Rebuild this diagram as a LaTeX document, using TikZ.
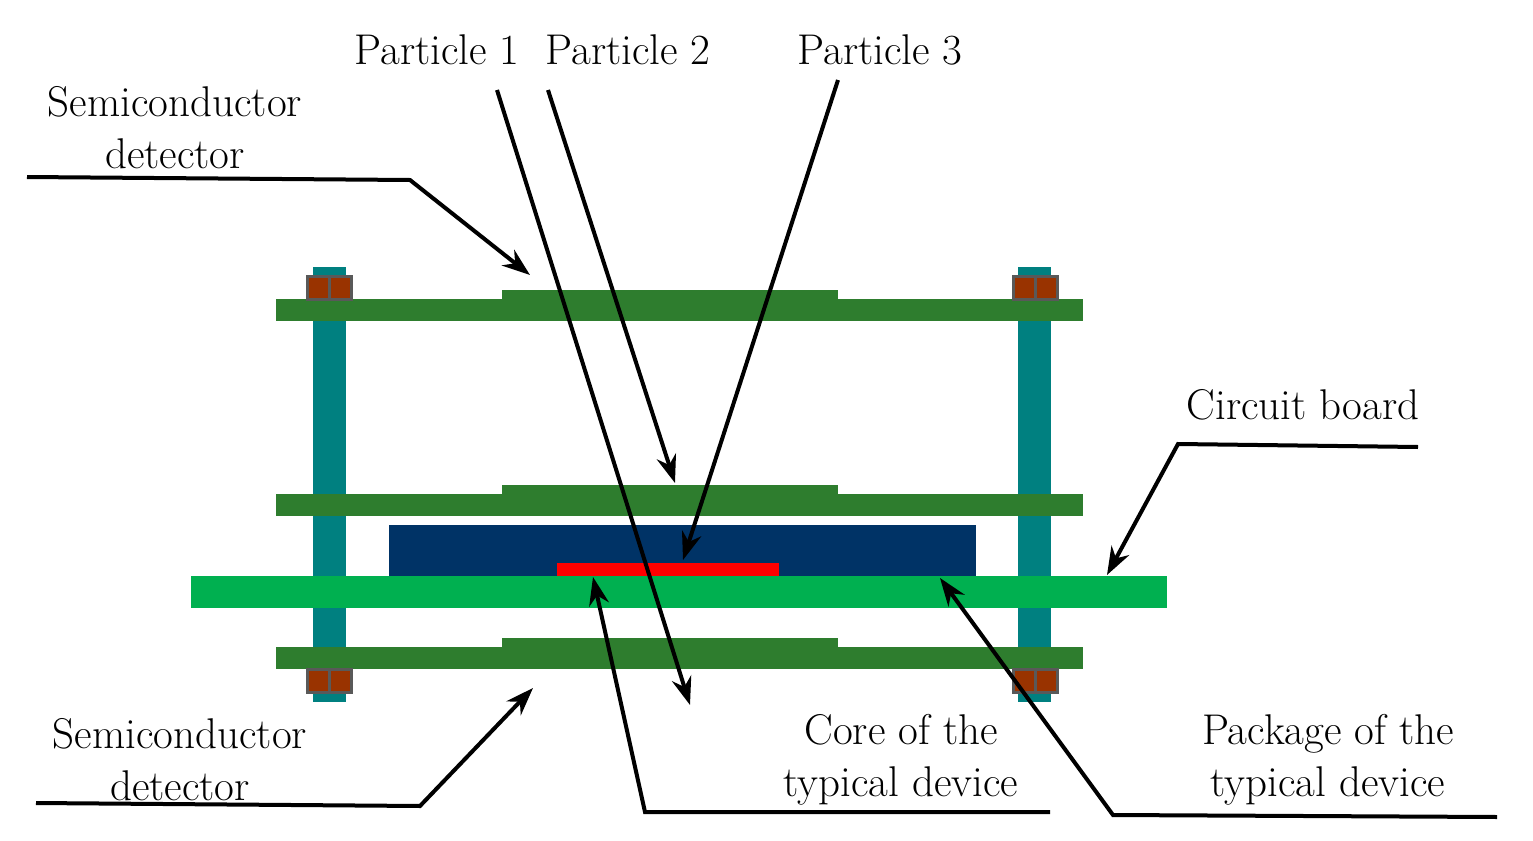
\documentclass[tikz,border=0pt]{standalone}
\usetikzlibrary{arrows.meta}
\begin{document}
\begin{tikzpicture}[x=0.5pt,y=-0.5pt,
  dg/.style={fill={rgb,255:red,46;green,125;blue,46}},
  post/.style={fill={rgb,255:red,0;green,128;blue,128}},
  bolt/.style={fill={rgb,255:red,153;green,51;blue,0},draw={rgb,255:red,89;green,89;blue,89},line width=1.5pt},
  arr/.style={line width=2pt,-{Stealth[length=14pt,width=10pt]}},
  lbl/.style={font=\fontsize{21.5}{26}\selectfont,align=center,inner sep=0pt}]
\useasboundingbox (0,0) rectangle (1533,841);
% posts
\path[post] (313,267) rectangle (346,702);
\path[post] (1018,267) rectangle (1051,702);
% detector boards
\foreach \y in {299,494,647}{
  \path[dg] (276,\y) rectangle (1083,\y+22);
  \path[dg] (502,\y-9) rectangle (838,\y+22);
}
% bolts
\foreach \x in {307,1013}{
  \foreach \y in {276,669}{
    \draw[bolt] (\x,\y) rectangle (\x+22,\y+23);
    \draw[bolt] (\x+22,\y) rectangle (\x+44,\y+23);
  }
}
% circuit board, package, core
\path[fill={rgb,255:red,0;green,176;blue,80}] (191,576) rectangle (1167,608);
\node[coordinate] (cb) at (1107,575) {};
\path[fill={rgb,255:red,0;green,51;blue,102}] (389,525) rectangle (976,576);
\path[fill=red] (557,563) rectangle (779,576);
% labels
\node[lbl] (p1) at (437,50) {Particle 1};
\node[lbl] (p2) at (628,50) {Particle 2};
\node[lbl] (p3) at (880,50) {Particle 3};
\node[lbl] (sd1) at (175,128) {Semiconductor\\detector};
\node[lbl] (sd2) at (180,760) {Semiconductor\\detector};
\node[lbl] (cbl) at (1303,405) {Circuit board};
\node[lbl] (core) at (901,760) {Core of the\\typical device};
\node[lbl] (pkg) at (1328,760) {Package of the\\typical device};
% coordinates
\coordinate (a1s) at (497,90); \coordinate (a1e) at (690,705);
\coordinate (a2s) at (548,90); \coordinate (a2e) at (675,483);
\coordinate (a3s) at (838,80); \coordinate (a3e) at (683,560);
\coordinate (s1a) at (27,177); \coordinate (s1b) at (410,180); \coordinate (s1c) at (530,275);
\coordinate (s2a) at (36,803); \coordinate (s2b) at (420,806); \coordinate (s2c) at (533,688);
\coordinate (c1) at (1418,447); \coordinate (c2) at (1178,444);
\coordinate (k1) at (1050,812); \coordinate (k2) at (645,812); \coordinate (k3) at (593,577);
\coordinate (q1) at (1497,817); \coordinate (q2) at (1113,815); \coordinate (q3) at (940,578);
\draw[arr] (a1s) -- (a1e);
\draw[arr] (a2s) -- (a2e);
\draw[arr] (a3s) -- (a3e);
\draw[arr] (s1a) -- (s1b) -- (s1c);
\draw[arr] (s2a) -- (s2b) -- (s2c);
\draw[arr] (c1) -- (c2) -- (cb);
\draw[arr] (k1) -- (k2) -- (k3);
\draw[arr] (q1) -- (q2) -- (q3);
\end{tikzpicture}
\end{document}
